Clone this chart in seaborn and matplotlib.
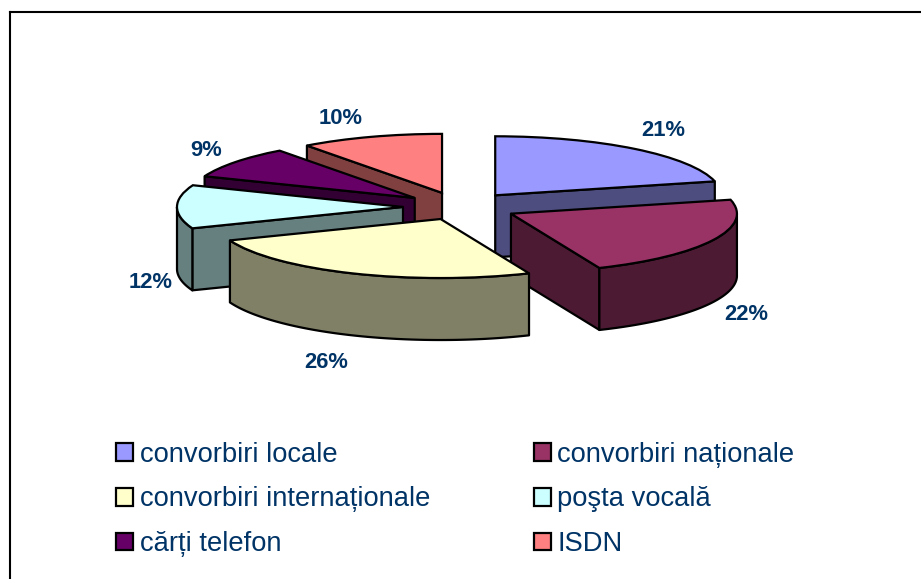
import numpy as np
import matplotlib
matplotlib.use("Agg")
import matplotlib.pyplot as plt
import seaborn as sns

# chart data, labels in the picture are these rounded to whole percents
categories = ["convorbiri locale", "convorbiri naționale", "convorbiri internaționale",
              "poşta vocală", "cărți telefon", "ISDN"]
shares = [21.2, 22.4, 25.5, 11.9, 8.8, 10.2]
top_colors = ["#9999ff", "#993366", "#ffffcc", "#ccffff", "#660066", "#ff8080"]

# layout, all in pixels of the 921x579 picture
W, H = 921, 579
CX, CY = 460, 207
RX, RY = 226, 59
DEPTH = 62
pull_px = [57, 57, 50, 57, 57, 57]
label_px = [(663, 130), (746, 314), (326, 362), (151, 282), (206, 150), (341, 118)]
draw_order = [5, 4, 3, 0, 1, 2]

sns.set_theme(style="white")
plt.rcParams["font.family"] = ["Liberation Sans", "DejaVu Sans"]
palette = sns.color_palette(top_colors)

fig = plt.figure(figsize=(W / 100, H / 100), dpi=100)
ax = fig.add_axes([10 / W, 0, (W - 10) / W, (H - 12) / H])

wedges, _, pct_texts = ax.pie(
    shares, colors=palette, startangle=90, counterclock=False,
    explode=[p / RX for p in pull_px], autopct="%.0f%%",
    wedgeprops={"edgecolor": "black", "linewidth": 1.6},
    textprops={"color": "#003366", "fontsize": 15.8, "fontweight": "bold"},
)

# pie forces a round aspect, squash it to get the tilted look
ax.set_aspect("auto")
ax.set_xlim((10 - CX) / RX, (W - CX) / RX)
ax.set_ylim((CY - H) / RY, (CY - 12) / RY)
ax.set_frame_on(True)
for side in ["right", "bottom"]:
    ax.spines[side].set_visible(False)
for side in ["left", "top"]:
    ax.spines[side].set_color("black")
    ax.spines[side].set_linewidth(1.5)

depth = DEPTH / RY


def side_face(xs, ys, color, z):
    xs = np.asarray(xs)
    ys = np.asarray(ys)
    ax.fill(np.r_[xs, xs[::-1]], np.r_[ys, ys[::-1] - depth], facecolor=color,
            edgecolor="black", linewidth=1.6, joinstyle="round", zorder=z)


for rank, i in enumerate(draw_order):
    w = wedges[i]
    z = 2 + rank
    w.set_zorder(z + 0.5)
    ax_x, ax_y = w.center
    dark = tuple(np.array(palette[i]) * 0.5)
    t1, t2 = np.deg2rad(w.theta1), np.deg2rad(w.theta2)

    # the two cut faces, only those turned towards the viewer
    for t, normal in [(t1, t1 - np.pi / 2), (t2, t2 + np.pi / 2)]:
        if np.sin(normal) < -1e-6:
            side_face([ax_x, ax_x + np.cos(t)], [ax_y, ax_y + np.sin(t)], dark, z)

    # outer rim, front half of the ellipse only
    arc = np.linspace(t1, t2, 90)
    arc = arc[np.sin(arc) < 0]
    if len(arc) > 1:
        side_face(ax_x + np.cos(arc), ax_y + np.sin(arc), dark, z + 0.2)

# percent labels sit where they were placed by hand in the original
for t, (px, py) in zip(pct_texts, label_px):
    t.set_position(((px - CX) / RX, (CY - py) / RY))
    t.set_zorder(20)

order = [0, 2, 4, 1, 3, 5]
leg = fig.legend(
    [wedges[i] for i in order], [categories[i] for i in order],
    ncol=2, loc="upper left", bbox_to_anchor=(116 / W, 1 - 441.5 / H),
    frameon=False, fontsize=19.7, labelcolor="#003366",
    handlelength=0.62, handleheight=0.62, handletextpad=0.25,
    columnspacing=3.78, labelspacing=0.69, borderpad=0, borderaxespad=0,
)

fig.savefig("out.png", dpi=100)
